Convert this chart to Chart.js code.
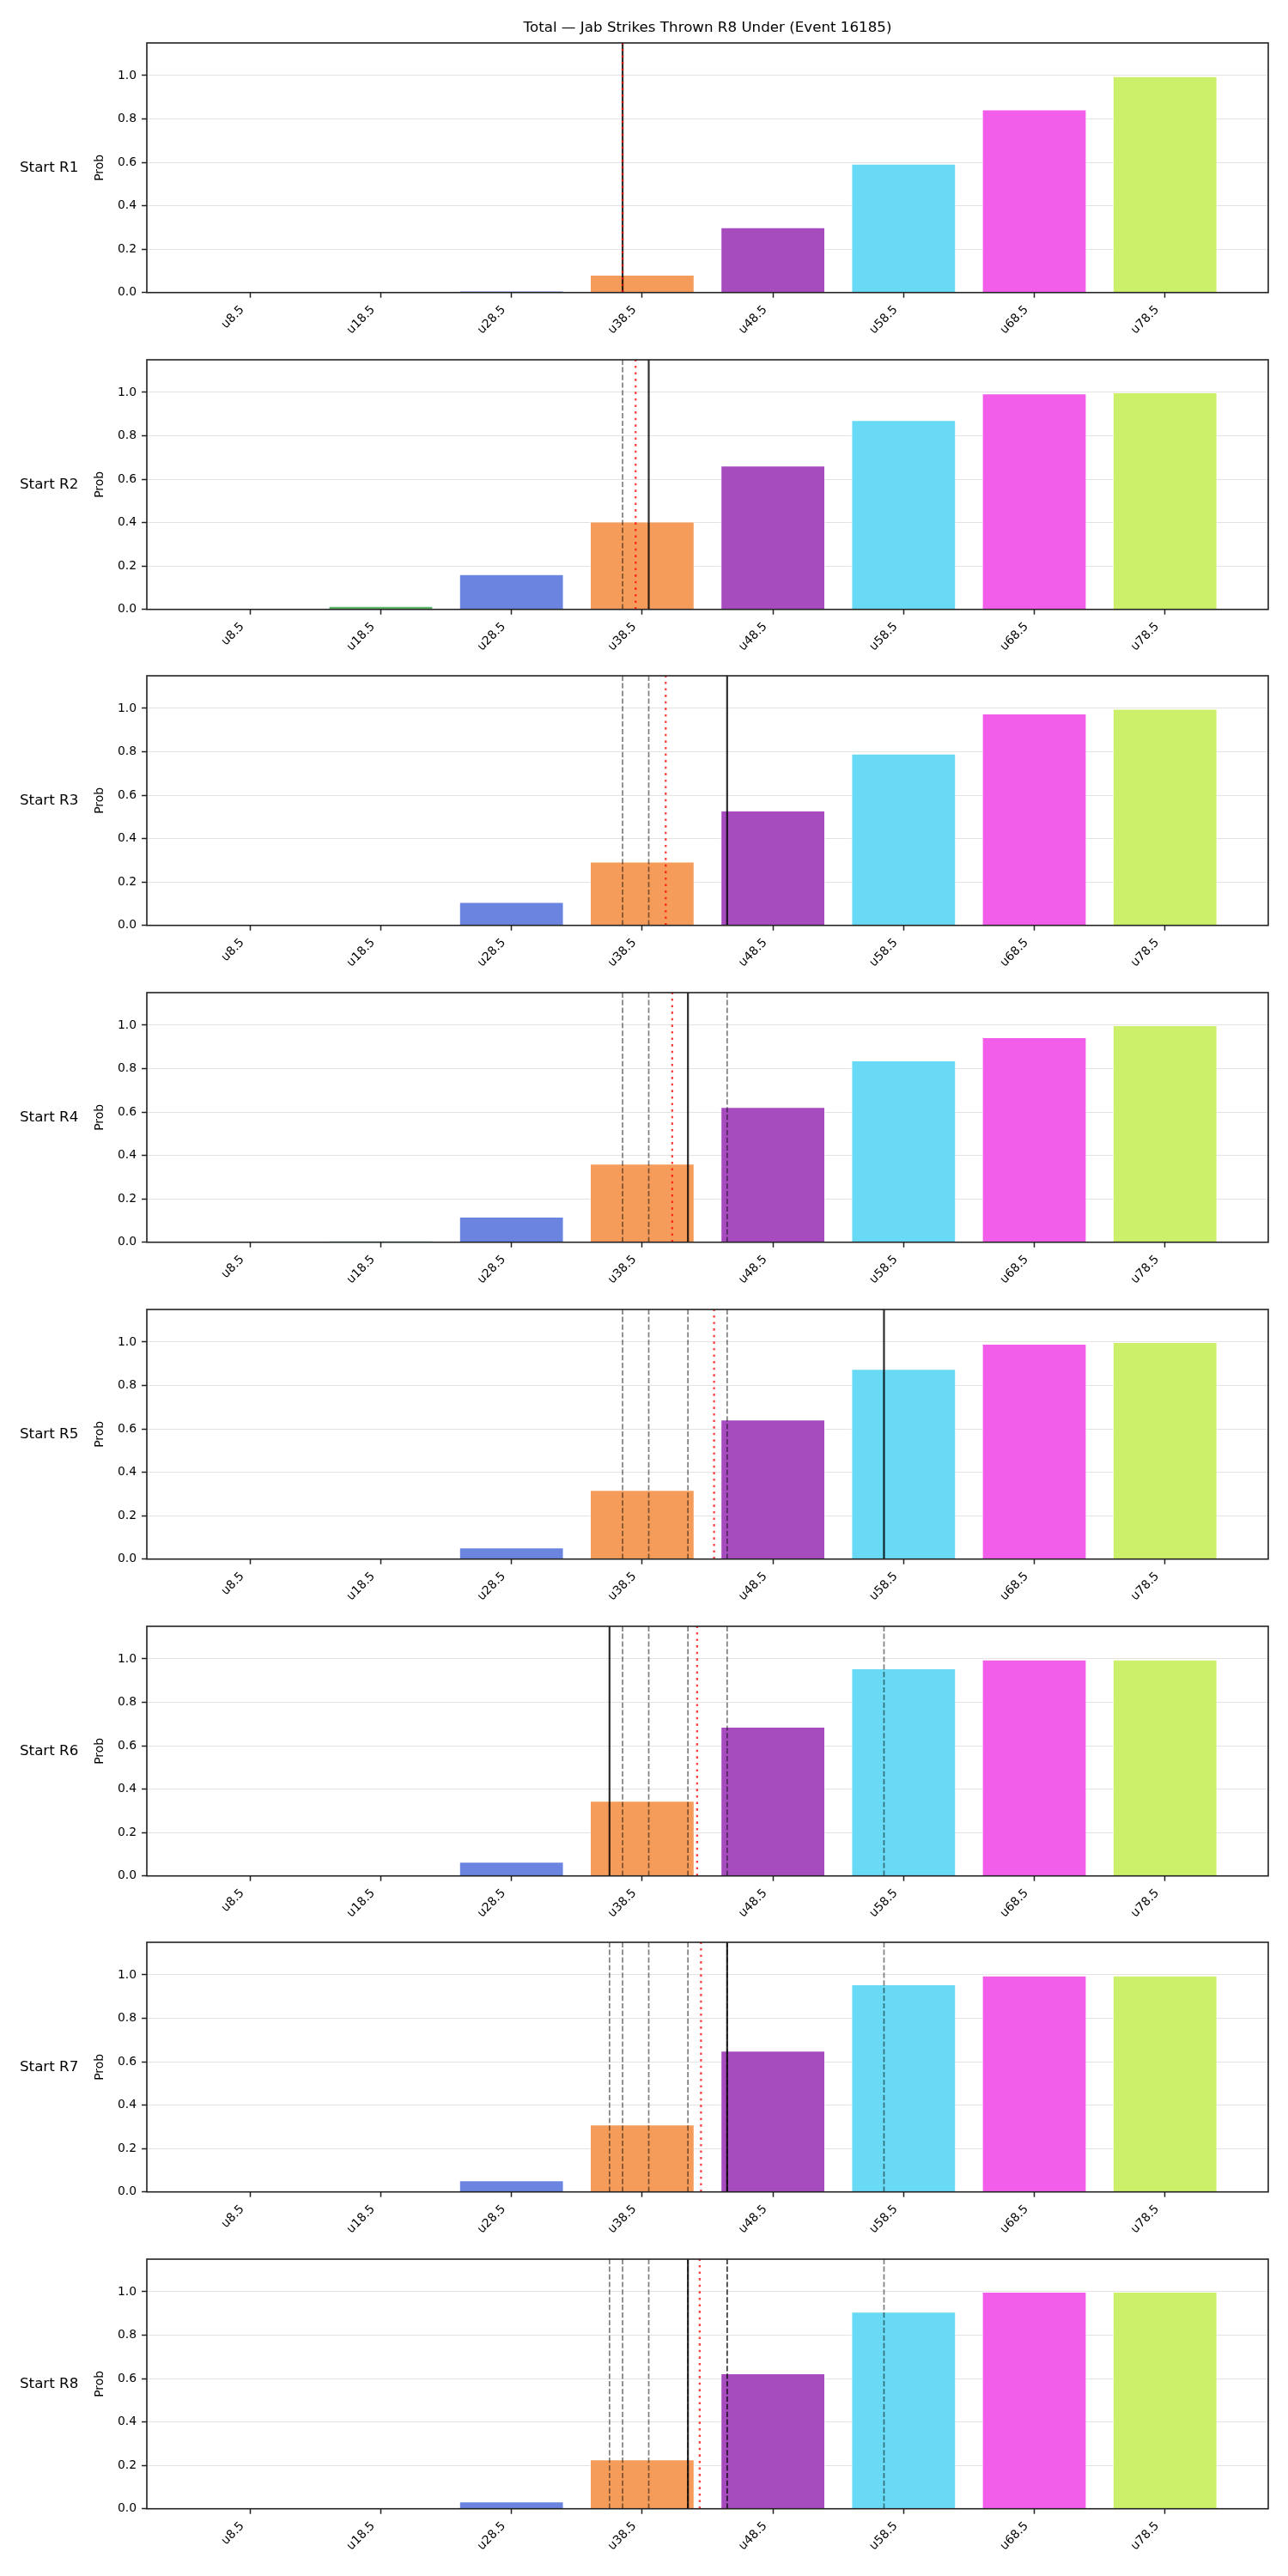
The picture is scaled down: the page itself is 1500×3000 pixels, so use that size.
<!DOCTYPE html>
<html>
<head>
<meta charset="utf-8">
<script src="https://cdn.jsdelivr.net/npm/chart.js@4.4.1/dist/chart.umd.min.js"></script>
<style>
  html, body { margin: 0; padding: 0; background: #fff; }
  #fig { position: relative; width: 1500px; height: 3000px; }
  #fig canvas { position: absolute; left: 0; }
</style>
</head>
<body>
<div id="fig"></div>
<script>
const figTitle = 'Total — Jab Strikes Thrown R8 Under (Event 16185)';
const tickLabels = ['u8.5', 'u18.5', 'u28.5', 'u38.5', 'u48.5', 'u58.5', 'u68.5', 'u78.5'];
const thresholds = [8.5, 18.5, 28.5, 38.5, 48.5, 58.5, 68.5, 78.5];
const barColors = ['#e8555a', '#5cb868', '#6a84e0', '#f69c5b', '#a64cbf', '#68daf5', '#f25de9', '#cdf06b'];
const rounds = ['Start R1', 'Start R2', 'Start R3', 'Start R4', 'Start R5', 'Start R6', 'Start R7', 'Start R8'];
const yTicks = [0, 0.2, 0.4, 0.6, 0.8, 1.0];

// P(under) per line, one array per starting round
const r1 = [0, 0, 0.007, 0.082, 0.300, 0.593, 0.843, 0.997];
const r2 = [0, 0.016, 0.162, 0.404, 0.662, 0.872, 0.995, 1.0];
const r3 = [0, 0.004, 0.108, 0.294, 0.529, 0.791, 0.976, 0.998];
const r4 = [0, 0.006, 0.117, 0.362, 0.623, 0.837, 0.944, 1.0];
const r5 = [0, 0.002, 0.053, 0.318, 0.643, 0.876, 0.992, 1.0];
const r6 = [0, 0.003, 0.065, 0.346, 0.687, 0.956, 0.997, 0.997];
const r7 = [0, 0.001, 0.053, 0.310, 0.651, 0.956, 0.997, 0.997];
const r8 = [0, 0, 0.033, 0.227, 0.624, 0.908, 1.0, 1.0];
const probs = [r1, r2, r3, r4, r5, r6, r7, r8];

// vertical markers (in strikes): current round value and running average
const roundValue = [37, 39, 45, 42, 57, 36, 45, 42];
const runningAvg = [37.0, 38.0, 40.3, 40.8, 44.0, 42.7, 43.0, 42.9];

const panelDecor = {
  id: 'panelDecor',
  afterDatasetsDraw(chart, args, opts) {
    const {ctx, chartArea: a, scales: {x}} = chart;
    ctx.save();
    ctx.beginPath();
    ctx.rect(a.left, a.top, a.right - a.left, a.bottom - a.top);
    ctx.clip();
    const vline = (v, color, w, dash) => {
      const px = x.getPixelForValue(v);
      ctx.beginPath();
      ctx.strokeStyle = color;
      ctx.lineWidth = w;
      ctx.setLineDash(dash);
      ctx.moveTo(px, a.bottom);
      ctx.lineTo(px, a.top);
      ctx.stroke();
    };
    opts.prev.forEach(v => vline(v, 'rgba(0,0,0,0.5)', 1.7, [6.2, 2.7]));
    vline(opts.now, 'rgba(0,0,0,0.82)', 2.2, []);
    vline(opts.avg, 'rgba(255,0,0,0.75)', 2.3, [2.6, 5]);
    ctx.restore();
  },
  afterDraw(chart, args, opts) {
    const {ctx, chartArea: a} = chart;
    ctx.save();
    ctx.strokeStyle = '#222';
    ctx.lineWidth = 1.6;
    ctx.setLineDash([]);
    ctx.strokeRect(a.left, a.top, a.right - a.left, a.bottom - a.top);
    ctx.fillStyle = '#000';
    ctx.font = '16.7px "DejaVu Sans"';
    ctx.textAlign = 'left';
    ctx.textBaseline = 'middle';
    ctx.fillText(opts.label, 23, (a.top + a.bottom) / 2);
    if (opts.title) {
      ctx.textAlign = 'center';
      ctx.textBaseline = 'alphabetic';
      ctx.fillText(opts.title, (a.left + a.right) / 2, 37);
    }
    ctx.restore();
  }
};

const fig = document.getElementById('fig');
const tickFont = {family: 'DejaVu Sans', size: 13.9};

probs.forEach((vals, i) => {
  const canvas = document.createElement('canvas');
  canvas.width = 1500;
  canvas.height = 400;
  canvas.style.top = Math.round(368.7 * i) + 'px';
  fig.appendChild(canvas);

  new Chart(canvas, {
    type: 'bar',
    data: {
      datasets: [{
        data: thresholds.map((t, k) => ({x: t, y: vals[k]})),
        backgroundColor: barColors,
        borderColor: 'rgba(255,255,255,0.8)',
        borderWidth: 1,
        categoryPercentage: 1,
        barPercentage: 0.8
      }]
    },
    options: {
      responsive: false,
      animation: false,
      devicePixelRatio: 1,
      layout: {padding: {top: 50, left: 100, right: 23, bottom: 0}},
      plugins: {
        legend: {display: false},
        tooltip: {enabled: false},
        panelDecor: {
          prev: roundValue.slice(0, i),
          now: roundValue[i],
          avg: runningAvg[i],
          label: rounds[i],
          title: i === 0 ? figTitle : null
        }
      },
      scales: {
        x: {
          type: 'linear',
          min: 0.6,
          max: 86.4,
          offset: false,
          afterBuildTicks: s => { s.ticks = thresholds.map(v => ({value: v})); },
          afterFit: s => { s.height = 59.3; },
          border: {display: false},
          grid: {offset: false, drawOnChartArea: false, tickLength: 6, tickColor: '#222', tickWidth: 1.5},
          ticks: {
            autoSkip: false,
            minRotation: 45,
            maxRotation: 45,
            padding: 6,
            labelOffset: -9,
            color: '#000',
            font: tickFont,
            callback: (v, k) => tickLabels[k]
          }
        },
        y: {
          min: 0,
          max: 1.15,
          z: 1,
          afterBuildTicks: s => { s.ticks = yTicks.map(v => ({value: v})); },
          afterFit: s => { s.width = 71; },
          border: {display: false},
          grid: {color: 'rgba(176,176,176,0.35)', lineWidth: 1, tickLength: 6, tickColor: '#222', tickWidth: 1.5},
          ticks: {
            padding: 6,
            color: '#000',
            font: tickFont,
            callback: v => v.toFixed(1)
          },
          title: {
            display: true,
            text: 'Prob',
            color: '#000',
            font: tickFont,
            padding: {top: 7.7, bottom: 0}
          }
        }
      }
    },
    plugins: [panelDecor]
  });
});
</script>
</body>
</html>
